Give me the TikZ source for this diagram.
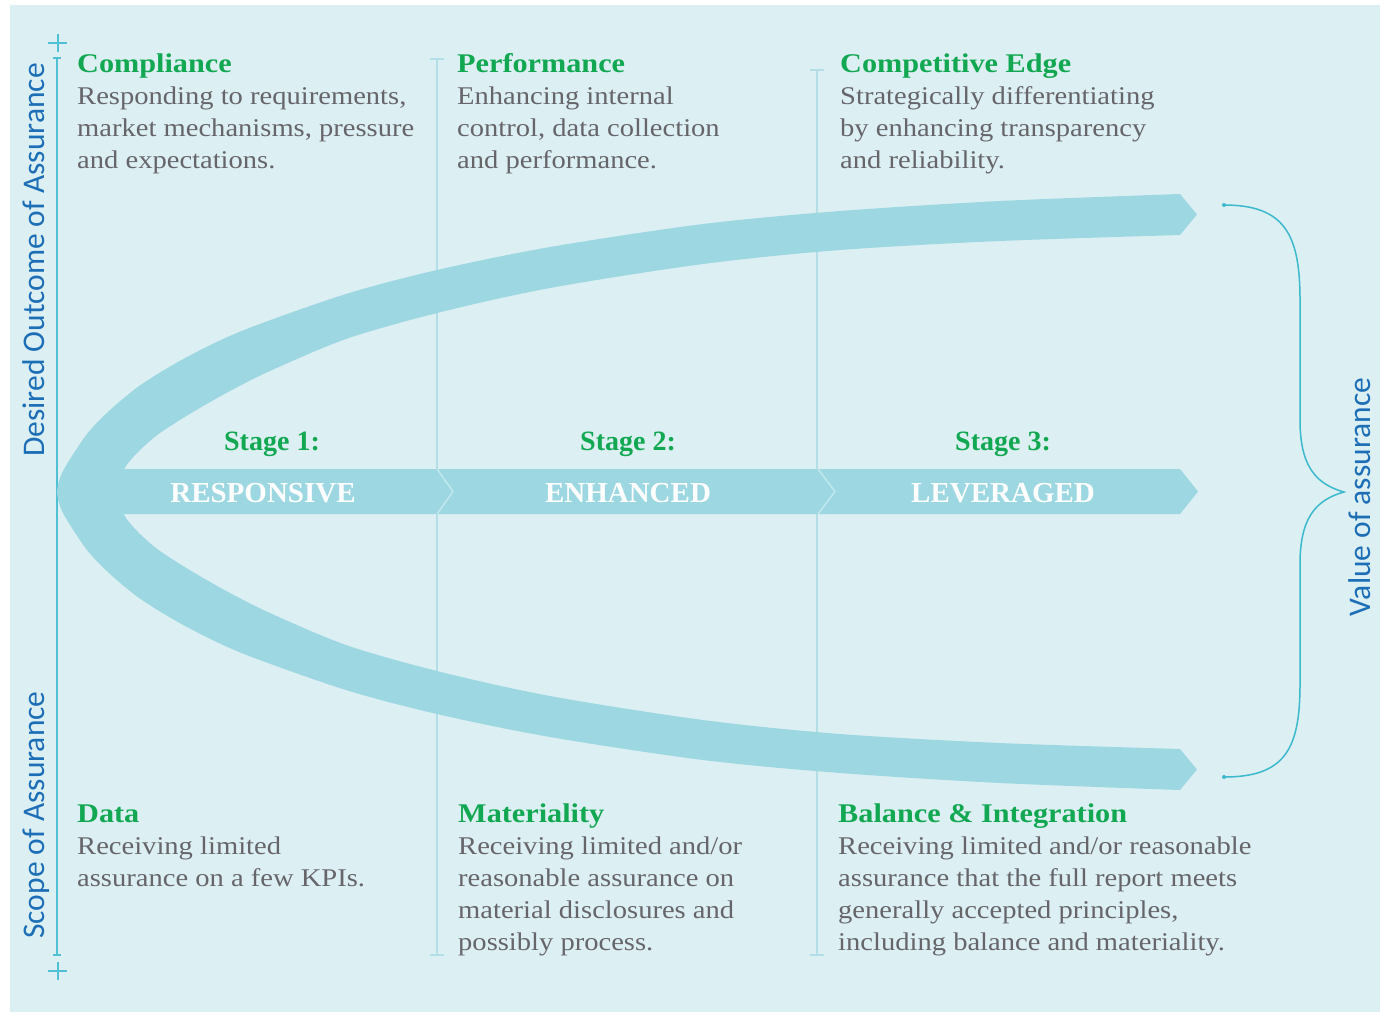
\documentclass[tikz,border=0pt]{standalone}
\usepackage{fontspec}
\setmainfont{Liberation Serif}[FakeStretch=1.12]
\newfontfamily\bandfont{Liberation Serif}
\newfontfamily\axisfont{Carlito}

\definecolor{bgcol}{RGB}{220,239,243}
\definecolor{bandcol}{RGB}{157,216,226}
\definecolor{axiscol}{RGB}{80,192,212}
\definecolor{colline}{RGB}{180,222,231}
\definecolor{chevcol}{RGB}{192,232,238}
\definecolor{headgreen}{RGB}{18,168,82}
\definecolor{bodygray}{RGB}{102,102,106}
\definecolor{axisblue}{RGB}{28,110,182}
\definecolor{bracecol}{RGB}{60,185,205}

\newcommand{\blockhead}[1]{{\color{headgreen}\bfseries\fontsize{27}{32}\selectfont #1}}

\tikzset{
  colrule/.style={draw=colline, line width=2.5pt},
  axisrule/.style={draw=axiscol, line width=2pt},
  bandfill/.style={fill=bandcol},
  chevron/.style={draw=chevcol, line width=1.5pt, line join=miter},
  blocktext/.style={anchor=base west, inner sep=0pt, text=bodygray,
    font=\fontsize{25.5}{32}\selectfont},
  stagelabel/.style={anchor=base, inner sep=0pt, text=headgreen,
    font=\bandfont\bfseries\fontsize{28}{32}\selectfont},
  bandlabel/.style={anchor=base, inner sep=0pt, text=white,
    font=\bandfont\bfseries\fontsize{29}{32}\selectfont},
  axislabel/.style={anchor=base, inner sep=0pt, rotate=90, text=axisblue,
    font=\axisfont\fontsize{31.5}{36}\selectfont},
  bracestyle/.style={draw=bracecol, line width=1.5pt},
}

\begin{document}
\begin{tikzpicture}[x=1pt,y=-1pt]
\useasboundingbox (0,0) rectangle (1380,1013);
\fill[white] (0,0) rectangle (1380,1013);
\fill[bgcol] (10,5) rectangle (1380,1012);

% column rules with end ticks
\draw[colrule] (437,59) -- (437,955);
\draw[colrule] (430,59) -- (444,59) (430,955) -- (444,955);
\draw[colrule] (817,70) -- (817,955);
\draw[colrule] (810,70) -- (824,70) (810,955) -- (824,955);

% left axis with plus marks
\draw[axisrule] (57,58) -- (57,955);
\draw[axisrule] (53,58) -- (61,58) (53,955) -- (61,955);
\draw[axisrule] (48,43) -- (67,43) (57.5,34) -- (57.5,52);
\draw[axisrule] (48,971) -- (67,971) (57.5,962) -- (57.5,980);

% curved outer band with its two arrow heads
\fill[bandfill] (1197,214.5)
  -- plot[smooth, tension=0.5] coordinates {
     (1180,194) (1000,201) (840,211) (703,224) (550,247) (437,270)
     (346,294) (244,330) (187,357) (142,384) (110,410) (87,434)
     (67,464) (60,478) (57,492)
     (60,506) (67,520) (87,550) (110,574) (142,600) (187,627)
     (244,654) (346,690) (437,714) (550,737) (703,760) (840,773)
     (1000,783) (1180,790)}
  -- (1197,769.5) -- (1180,749)
  -- plot[smooth, tension=0.5] coordinates {
     (1180,749) (1000,743) (840,734) (703,720) (550,696) (437,671)
     (346,645) (270,613) (230,593) (193,572) (160,551) (140,534)
     (126,518) (120,504) (117,492)
     (120,480) (126,466) (140,450) (160,433) (193,412) (230,391)
     (270,371) (346,339) (437,313) (550,288) (703,264) (840,250)
     (1000,241) (1180,235)}
  -- cycle;

% central stage band
\fill[bandfill] (117,469) -- (1180,469) -- (1198,491.5) -- (1180,514) -- (117,514) -- cycle;
\draw[chevron] (437,469) -- (453,491.5) -- (437,514);
\draw[chevron] (818,469) -- (835,491.5) -- (818,514);

% stage titles
\node[stagelabel] (st1) at (272,450) {Stage 1:};
\node[stagelabel] (st2) at (628,450) {Stage 2:};
\node[stagelabel] (st3) at (1003,450) {Stage 3:};
\node[bandlabel] (bl1) at (263,502) {RESPONSIVE};
\node[bandlabel] (bl2) at (628,502) {ENHANCED};
\node[bandlabel] (bl3) at (1003,502) {LEVERAGED};

% upper text blocks
\node[blocktext] (comp) at (77,72) {\begin{tabular}[t]{@{}l@{}}
  \blockhead{Compliance}\\
  Responding to requirements,\\
  market mechanisms, pressure\\
  and expectations.\end{tabular}};
\node[blocktext] (perf) at (457,72) {\begin{tabular}[t]{@{}l@{}}
  \blockhead{Performance}\\
  Enhancing internal\\
  control, data collection\\
  and performance.\end{tabular}};
\node[blocktext] (edge) at (840,72) {\begin{tabular}[t]{@{}l@{}}
  \blockhead{Competitive Edge}\\
  Strategically differentiating\\
  by enhancing transparency\\
  and reliability.\end{tabular}};

% lower text blocks
\node[blocktext] (data) at (77,822) {\begin{tabular}[t]{@{}l@{}}
  \blockhead{Data}\\
  Receiving limited\\
  assurance on a few KPIs.\end{tabular}};
\node[blocktext] (mat) at (458,822) {\begin{tabular}[t]{@{}l@{}}
  \blockhead{Materiality}\\
  Receiving limited and/or\\
  reasonable assurance on\\
  material disclosures and\\
  possibly process.\end{tabular}};
\node[blocktext] (bal) at (838,822) {\begin{tabular}[t]{@{}l@{}}
  \blockhead{Balance \& Integration}\\
  Receiving limited and/or reasonable\\
  assurance that the full report meets\\
  generally accepted principles,\\
  including balance and materiality.\end{tabular}};

% axis captions
\node[axislabel] (desired) at (44,260) {Desired Outcome of Assurance};
\node[axislabel] (scope) at (44,815) {Scope of Assurance};
\node[axislabel] (value) at (1370,497) {Value of assurance};

% right brace
\coordinate (braceTop) at (1224,205);
\coordinate (braceTip) at (1344,492);
\coordinate (braceBot) at (1224,777);
\draw[bracestyle] (braceTop) .. controls (1285,205) and (1300,235) .. (1300,300)
  -- (1300,420) .. controls (1300,465) and (1315,484) .. (braceTip)
  .. controls (1315,500) and (1300,519) .. (1300,564)
  -- (1300,684) .. controls (1300,749) and (1285,777) .. (braceBot);
\fill[bracecol] (braceTop) circle (2pt) (braceBot) circle (2pt);
\end{tikzpicture}
\end{document}
